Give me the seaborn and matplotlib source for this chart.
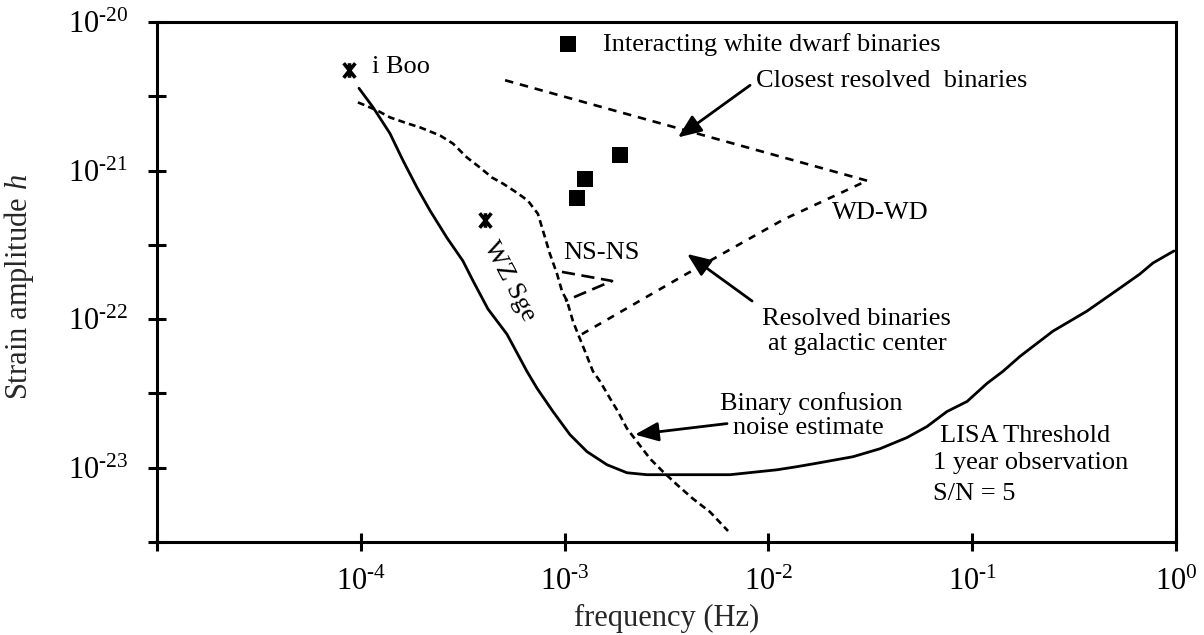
import numpy as np
import matplotlib
matplotlib.use("Agg")
import matplotlib.pyplot as plt
import seaborn as sns
from matplotlib.ticker import FixedLocator, FixedFormatter, NullLocator
from matplotlib.path import Path

# ---------------- data (log10 frequency [Hz], log10 strain amplitude) ----------------
lisa_logf = [-4.009, -3.940, -3.857, -3.793, -3.724, -3.660, -3.577, -3.499, -3.449,
             -3.376, -3.283, -3.219, -3.185, -3.135, -3.057, -2.974, -2.890, -2.792,
             -2.694, -2.596, -2.188, -1.958, -1.860, -1.747, -1.585, -1.452, -1.320,
             -1.222, -1.124, -1.025, -0.927, -0.849, -0.765, -0.604, -0.437, -0.275,
             -0.177, -0.113, -0.010]
lisa_logh = [-20.446, -20.574, -20.750, -20.932, -21.115, -21.270, -21.453, -21.608, -21.743,
             -21.932, -22.101, -22.264, -22.351, -22.466, -22.622, -22.777, -22.892, -22.980,
             -23.034, -23.047, -23.047, -23.014, -22.993, -22.966, -22.926, -22.872, -22.797,
             -22.723, -22.622, -22.554, -22.432, -22.351, -22.250, -22.081, -21.946, -21.791,
             -21.696, -21.622, -21.541]

conf_logf = [-4.014, -3.920, -3.857, -3.773, -3.710, -3.611, -3.548, -3.479, -3.415,
             -3.356, -3.302, -3.234, -3.180, -3.131, -3.106, -3.072, -3.037, -3.013,
             -2.988, -2.959, -2.934, -2.900, -2.861, -2.826, -2.777, -2.738, -2.694,
             -2.645, -2.581, -2.517, -2.448, -2.370, -2.287, -2.198]
conf_logh = [-20.541, -20.595, -20.642, -20.682, -20.709, -20.764, -20.818, -20.912, -20.980,
             -21.047, -21.088, -21.149, -21.203, -21.291, -21.405, -21.561, -21.696, -21.811,
             -21.878, -22.014, -22.101, -22.216, -22.351, -22.419, -22.534, -22.622, -22.736,
             -22.824, -22.939, -23.027, -23.115, -23.209, -23.297, -23.426]

closest_logf = [-3.292, -1.516]
closest_logh = [-20.392, -21.068]

galactic_logf = [-2.915, -2.419, -1.928, -1.516]
galactic_logh = [-22.101, -21.709, -21.331, -21.068]

nsns_logf = [-3.013, -2.767, -2.998]
nsns_logh = [-21.682, -21.743, -21.878]

iwd_logf = [-2.728, -2.900, -2.939]
iwd_logh = [-20.892, -21.054, -21.182]

legend_sq_logf = [-2.983]
legend_sq_logh = [-20.149]

star_names = ["i Boo", "WZ Sge"]
star_logf = [-4.058, -3.391]
star_logh = [-20.324, -21.331]

xtick_exp = [-5, -4, -3, -2, -1, 0]
ytick_exp = [-23, -22, -21, -20]
ytick_minor_exp = [-23.5, -22.5, -21.5, -20.5]

# ---------------- style ----------------
sns.set_style("ticks")
plt.rcParams["font.family"] = ["Liberation Serif", "DejaVu Serif"]
plt.rcParams["mathtext.fontset"] = "custom"
plt.rcParams["mathtext.rm"] = "Liberation Serif"
plt.rcParams["mathtext.it"] = "Liberation Serif:italic"
plt.rcParams["mathtext.bf"] = "Liberation Serif:bold"
plt.rcParams["axes.edgecolor"] = "black"
plt.rcParams["text.color"] = "black"
plt.rcParams["xtick.color"] = "black"
plt.rcParams["ytick.color"] = "black"


def pow_label(e):
    """10^e with a short hyphen as in the original, falling back to the minus sign."""
    if e < 0:
        s = r"$10^{\text{-}%d}$" % abs(e)
        try:
            from matplotlib.mathtext import MathTextParser
            MathTextParser("path").parse(s)
            return s
        except Exception:
            return r"$10^{%d}$" % e
    return r"$10^{%d}$" % e


xtick_labels = [""] + [pow_label(e) for e in xtick_exp[1:]]
ytick_labels = [pow_label(e) for e in ytick_exp]


def p10(a):
    return np.power(10.0, np.asarray(a, dtype=float))


# asterisk-like marker: X plus a vertical bar
star_marker = Path([(0, -1), (0, 1), (-0.8, -1), (0.8, 1), (-0.8, 1), (0.8, -1)],
                   [Path.MOVETO, Path.LINETO, Path.MOVETO, Path.LINETO,
                    Path.MOVETO, Path.LINETO])

fig = plt.figure(figsize=(12.04, 6.35), dpi=100)
ax = fig.add_axes([157 / 1204, 93 / 635, 1019 / 1204, 520 / 635])
ax.set_xscale("log")
ax.set_yscale("log")

# LISA threshold curve
sns.lineplot(x=p10(lisa_logf), y=p10(lisa_logh), sort=False, estimator=None,
             color="black", lw=2.0, ax=ax)
# Binary confusion noise
sns.lineplot(x=p10(conf_logf), y=p10(conf_logh), sort=False, estimator=None,
             color="black", lw=1.9, linestyle=(0, (2.6, 1.6)), ax=ax)
# WD-WD band
sns.lineplot(x=p10(closest_logf), y=p10(closest_logh), sort=False, estimator=None,
             color="black", lw=1.9, linestyle=(0, (3.2, 2.6)), ax=ax)
sns.lineplot(x=p10(galactic_logf), y=p10(galactic_logh), sort=False, estimator=None,
             color="black", lw=1.9, linestyle=(0, (2.8, 2.8)), ax=ax)
# NS-NS wedge
sns.lineplot(x=p10(nsns_logf), y=p10(nsns_logh), sort=False, estimator=None,
             color="black", lw=1.9, linestyle=(0, (5, 2.5)), ax=ax)

# interacting white dwarf binaries
sns.scatterplot(x=p10(iwd_logf), y=p10(iwd_logh), marker="s", s=130, color="black",
                linewidth=0, ax=ax, zorder=5)
sns.scatterplot(x=p10(legend_sq_logf), y=p10(legend_sq_logh), marker="s", s=130,
                color="black", linewidth=0, ax=ax, zorder=5)
# stars
sns.scatterplot(x=p10(star_logf), y=p10(star_logh), marker=star_marker, s=110,
                color="black", edgecolor="black", linewidth=2.6, ax=ax, zorder=5)

ax.set_xlim(1e-5, 1e0)
ax.set_ylim(10 ** -23.5, 1e-20)

# ---------------- text ----------------
fs = 19


def dtext(lf, lh, s, **kw):
    ax.text(10 ** lf, 10 ** lh, s, fontsize=kw.pop("fontsize", fs), **kw)


dtext(-2.812, -20.149, "Interacting white dwarf binaries", ha="left", va="center")
dtext(-2.061, -20.399, "Closest resolved  binaries", ha="left", va="center")
dtext(-1.688, -21.284, "WD-WD", ha="left", va="center")
dtext(-3.008, -21.554, "NS-NS", ha="left", va="center")
dtext(-1.570, -22.000, "Resolved binaries", ha="center", va="center")
dtext(-1.565, -22.169, "at galactic center", ha="center", va="center")
dtext(-1.791, -22.568, "Binary confusion", ha="center", va="center")
dtext(-1.806, -22.736, "noise estimate", ha="center", va="center")
dtext(-1.158, -22.784, "LISA Threshold", ha="left", va="center")
dtext(-1.192, -22.966, "1 year observation", ha="left", va="center")
dtext(-1.192, -23.176, "S/N = 5", ha="left", va="center")
dtext(-3.945, -20.304, star_names[0], ha="left", va="center")
dtext(-3.273, -21.743, star_names[1], ha="center", va="center", rotation=-62,
      rotation_mode="anchor")

arrow_kw = dict(arrowstyle="-|>,head_length=1.1,head_width=0.45", mutation_scale=13,
                color="black", lw=2.0, shrinkA=0, shrinkB=0)
for tail, tip in [((-2.090, -20.426), (-2.444, -20.777)),
                  ((-2.080, -21.878), (-2.399, -21.561)),
                  ((-2.203, -22.703), (-2.655, -22.777))]:
    ax.annotate("", xy=(10 ** tip[0], 10 ** tip[1]), xytext=(10 ** tail[0], 10 ** tail[1]),
                arrowprops=arrow_kw)

# ---------------- axes ----------------
ax.xaxis.set_major_locator(FixedLocator(p10(xtick_exp)))
ax.xaxis.set_major_formatter(FixedFormatter(xtick_labels))
ax.xaxis.set_minor_locator(NullLocator())
ax.yaxis.set_major_locator(FixedLocator(p10(ytick_exp)))
ax.yaxis.set_major_formatter(FixedFormatter(ytick_labels))
ax.yaxis.set_minor_locator(FixedLocator(p10(ytick_minor_exp)))

ax.tick_params(axis="both", which="both", direction="inout", length=13.5, width=2.2,
               top=False, right=False, labelsize=22)
ax.tick_params(axis="x", pad=12)
ax.tick_params(axis="y", pad=14)
for sp in ax.spines.values():
    sp.set_visible(True)
    sp.set_linewidth(2.2)
    sp.set_color("black")

ax.set_xlabel("frequency (Hz)", fontsize=22)
ax.set_ylabel("Strain amplitude $h$", fontsize=22)
ax.xaxis.set_label_coords(0.5, -0.12)
ax.yaxis.set_label_coords(-0.119, 0.49)

fig.savefig("out.png", dpi=100)
